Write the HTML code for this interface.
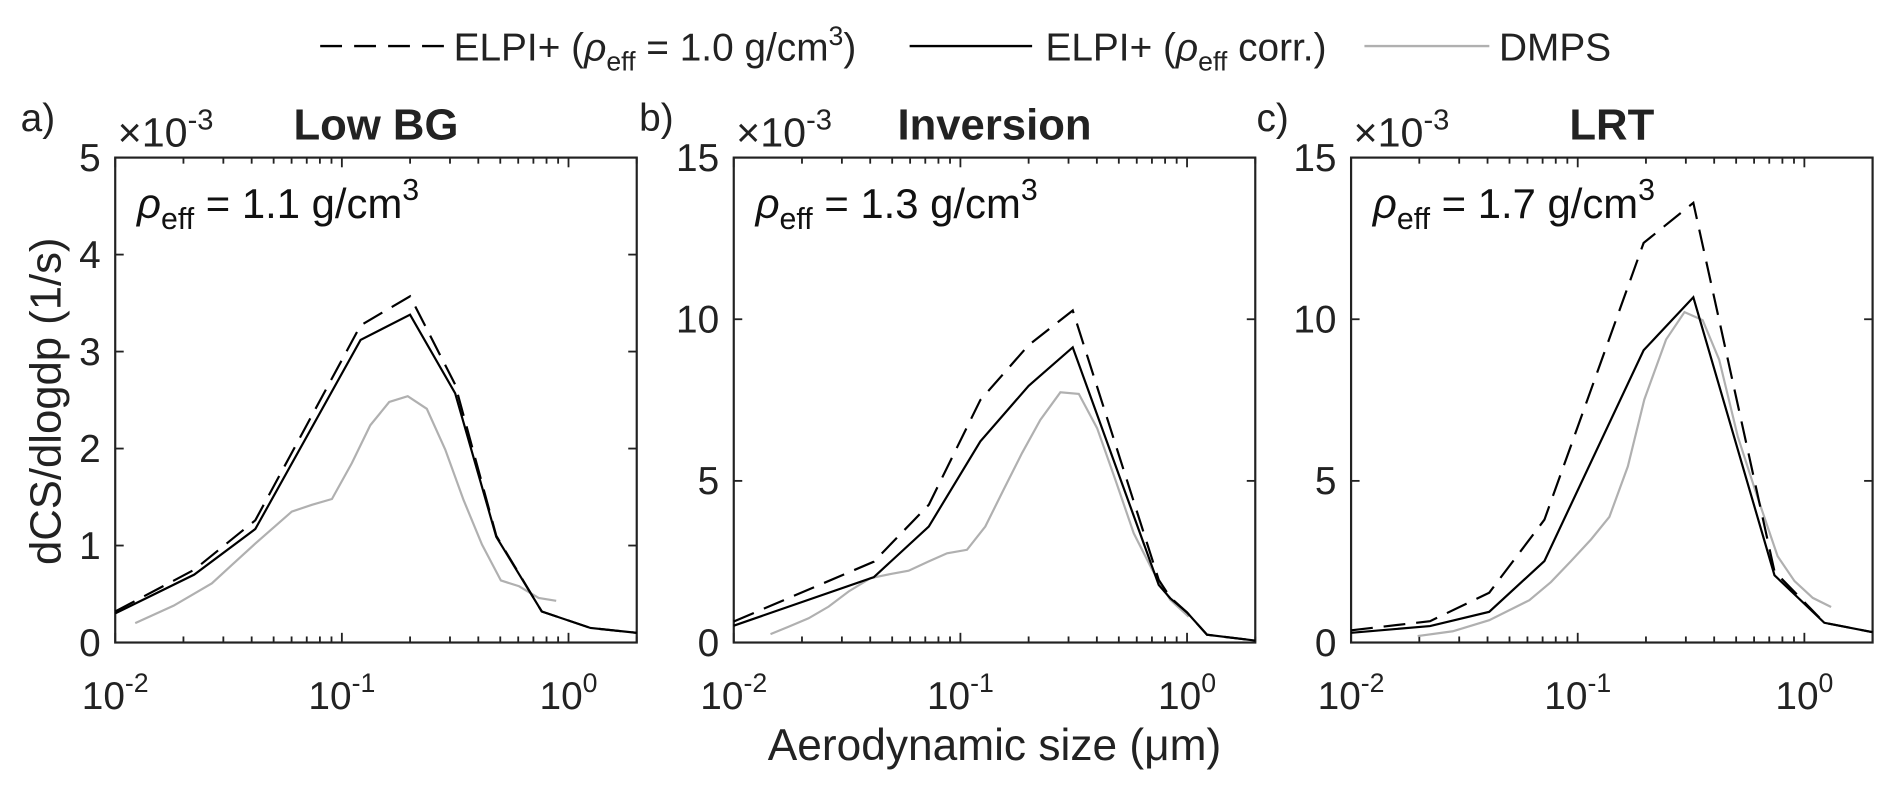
<!DOCTYPE html>
<html><head><meta charset="utf-8"><style>
html,body{margin:0;padding:0;background:#fff;}
svg{display:block;font-family:"Liberation Sans",Arial,sans-serif;}
</style></head><body>
<svg id="chart" width="1892" height="788" viewBox="0 0 1560 650" preserveAspectRatio="none">
<g>
<g>
<line x1="264" y1="38" x2="370" y2="38" stroke="#000" stroke-width="2" stroke-dasharray="18,10"/>
<text x="374" y="50" font-size="32" fill="#222">ELPI+ (<tspan font-style="italic">ρ</tspan><tspan font-size="22" dy="8">eff</tspan><tspan dy="-8"> = 1.0 g/cm</tspan><tspan font-size="22" dy="-13">3</tspan><tspan dy="13">)</tspan></text>
</g>
<g>
<line x1="750" y1="38" x2="851" y2="38" stroke="#000" stroke-width="2"/>
<text x="862" y="50" font-size="32" fill="#222">ELPI+ (<tspan font-style="italic">ρ</tspan><tspan font-size="22" dy="8">eff</tspan><tspan dy="-8"> corr.)</tspan></text>
</g>
<g>
<line x1="1125" y1="38" x2="1228" y2="38" stroke="#b0b0b0" stroke-width="2"/>
<text x="1236" y="50" font-size="32" fill="#222">DMPS</text>
</g>
</g>
<text transform="translate(50,331) rotate(-90)" text-anchor="middle" font-size="36" fill="#222">dCS/dlogdp (1/s)</text>
<text x="820" y="627" text-anchor="middle" font-size="36.5" fill="#222">Aerodynamic size (μm)</text>
<g id="panels"></g>
</svg>
<script>
// Panel a (Low BG)
const aElpiX = [0.01,0.0223,0.0415,0.121,0.200,0.316,0.480,0.762,1.25,2.0];
const aElpiCorr = [0.30,0.70,1.17,3.12,3.38,2.57,1.09,0.32,0.15,0.10];
const aElpi10 = [0.32,0.75,1.26,3.27,3.57,2.66,1.10,0.32,0.15,0.10];
const aDmpsX = [0.01225,0.0181,0.0267,0.0327,0.0415,0.0601,0.0738,0.0904,0.1107,0.1334,0.1618,0.1954,0.237,0.2857,0.3444,0.415,0.503,0.605,0.738,0.883];
const aDmps = [0.20,0.38,0.61,0.80,1.02,1.35,1.42,1.48,1.85,2.24,2.48,2.54,2.41,1.99,1.47,1.01,0.64,0.58,0.46,0.43];
const aYTicks = [0,1,2,3,4,5];
// Panel b (Inversion)
const bElpiX = [0.01,0.0415,0.0725,0.1225,0.200,0.313,0.750,0.843,1.0,1.225,2.0];
const bElpiCorr = [0.52,2.02,3.59,6.22,7.94,9.13,1.78,1.37,0.93,0.24,0.06];
const bElpi10 = [0.65,2.50,4.26,7.50,9.20,10.27,1.94,1.40,0.93,0.24,0.06];
const bDmpsX = [0.01452,0.0175,0.0214,0.0262,0.0321,0.0401,0.0491,0.0591,0.0725,0.0873,0.1069,0.1288,0.155,0.187,0.2254,0.276,0.333,0.401,0.483,0.582,0.702,0.843,1.017];
const bDmps = [0.26,0.49,0.75,1.11,1.58,1.99,2.12,2.22,2.51,2.76,2.87,3.59,4.72,5.86,6.89,7.74,7.69,6.63,5.03,3.38,2.25,1.32,0.80];
const bYTicks = [0,5,10,15];
// Panel c (LRT)
const cElpiX = [0.01,0.0223,0.0407,0.0713,0.1954,0.3236,0.738,1.225,2.0];
const cElpiCorr = [0.30,0.51,0.95,2.52,9.04,10.68,2.08,0.61,0.32];
const cElpi10 = [0.38,0.66,1.54,3.80,12.36,13.60,2.20,0.61,0.32];
const cDmpsX = [0.01968,0.0281,0.0407,0.0612,0.0762,0.0935,0.1146,0.138,0.1664,0.1968,0.2454,0.2958,0.356,0.421,0.508,0.612,0.762,0.904,1.089,1.312];
const cDmps = [0.20,0.35,0.69,1.31,1.87,2.52,3.19,3.89,5.45,7.52,9.37,10.22,9.97,8.75,6.38,4.63,2.67,1.90,1.38,1.10];
const cYTicks = [0,5,10,15];
const xTickExp = [-2,-1,0];
const titles = ["Low BG","Inversion","LRT"];
const letters = ["a)","b)","c)"];
const rhoVals = ["1.1","1.3","1.7"];

const NS="http://www.w3.org/2000/svg";
const root=document.getElementById('panels');
function mk(tag,attrs,parent){const e=document.createElementNS(NS,tag);for(const k in attrs)e.setAttribute(k,attrs[k]);(parent||root).appendChild(e);return e;}

const panels=[
 {L:95,R:525,ymax:5,yt:aYTicks,ex:aElpiX,ec:aElpiCorr,e10:aElpi10,dx:aDmpsX,d:aDmps,key:"a"},
 {L:605,R:1035,ymax:15,yt:bYTicks,ex:bElpiX,ec:bElpiCorr,e10:bElpi10,dx:bDmpsX,d:bDmps,key:"b"},
 {L:1114,R:1544,ymax:15,yt:cYTicks,ex:cElpiX,ec:cElpiCorr,e10:cElpi10,dx:cDmpsX,d:cDmps,key:"c"}
];
const T=130,B=530,xmin=0.01,xmax=2;
panels.forEach((p,i)=>{
 const g=mk('g',{});
 
 
 const sx=v=>p.L+(Math.log10(v)-Math.log10(xmin))/(Math.log10(xmax)-Math.log10(xmin))*(p.R-p.L);
 const sy=v=>B-v/p.ymax*(B-T);
 for(let e=-2;e<=0;e++)for(let m=1;m<=9;m++){const v=m*Math.pow(10,e);if(v<xmin||v>xmax)continue;const x=sx(v);const len=m===1?8:5;
  mk('line',{x1:x,y1:B,x2:x,y2:B-len,stroke:'#222','stroke-width':1.5},g);
  mk('line',{x1:x,y1:T,x2:x,y2:T+len,stroke:'#222','stroke-width':1.5},g);}
 p.yt.forEach(v=>{const y=sy(v);
  mk('line',{x1:p.L,y1:y,x2:p.L+7,y2:y,stroke:'#222','stroke-width':1.5},g);
  mk('line',{x1:p.R,y1:y,x2:p.R-7,y2:y,stroke:'#222','stroke-width':1.5},g);
  const t=mk('text',{x:p.L-12,y:y+11,'text-anchor':'end','font-size':32,fill:'#222'},g);t.textContent=v;
  
  });
 xTickExp.forEach(e=>{const x=sx(Math.pow(10,e));
  const t=mk('text',{x:x,y:585,'text-anchor':'middle','font-size':32,fill:'#222'},g);
  
  
  t.innerHTML='10<tspan font-size="22" dy="-14">'+e+'</tspan>';});
 const frame=mk('rect',{x:p.L,y:T,width:p.R-p.L,height:B-T,fill:'none',stroke:'#222','stroke-width':1.8},g);
 
 
 const mult=mk('text',{x:p.L+2,y:T-9,'font-size':34,fill:'#222'},g);
 mult.innerHTML='×10<tspan font-size="24" dy="-14">-3</tspan>';
 
 
 const ti=mk('text',{x:(p.L+p.R)/2,y:115,'text-anchor':'middle','font-size':36,'font-weight':'bold',fill:'#222'},g);
 ti.textContent=titles[i];
 
 
 const le=mk('text',{x:p.L-78,y:108,'font-size':32,fill:'#222'},g);
 le.textContent=letters[i];
 
 
 const an=mk('text',{x:p.L+18,y:180,'font-size':34.5,fill:'#111'},g);
 an.innerHTML='<tspan font-style="italic">ρ</tspan><tspan font-size="25" dy="9">eff</tspan><tspan dy="-9"> = '+rhoVals[i]+' g/cm</tspan><tspan font-size="25" dy="-15">3</tspan>';
 
 
 const path=(xs,ys)=>xs.map((x,k)=>(k?'L':'M')+sx(x).toFixed(1)+','+sy(ys[k]).toFixed(1)).join(' ');
 const ld=mk('path',{d:path(p.dx,p.d),fill:'none',stroke:'#b0b0b0','stroke-width':1.8},g);
 
 
 const l10=mk('path',{d:path(p.ex,p.e10),fill:'none',stroke:'#000','stroke-width':1.8,'stroke-dasharray':'18,9'},g);
 
 
 const lc=mk('path',{d:path(p.ex,p.ec),fill:'none',stroke:'#000','stroke-width':1.8},g);
 
 
});
</script>
</body></html>
